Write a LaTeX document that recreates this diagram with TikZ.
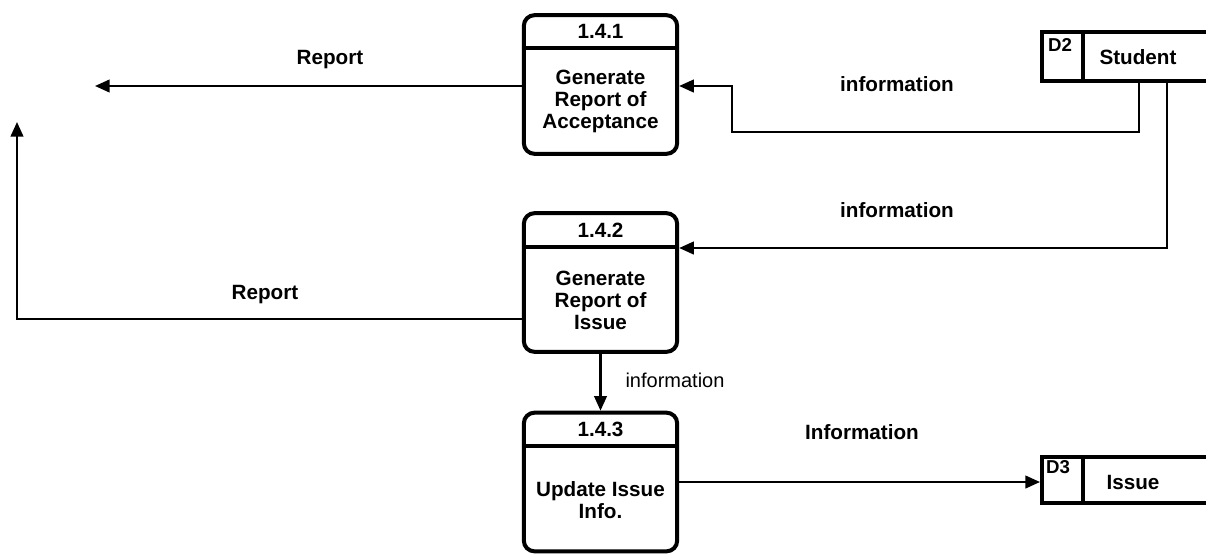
\documentclass[tikz,border=0pt]{standalone}
\usepackage{fontspec}
\setmainfont{Liberation Sans}
\usetikzlibrary{arrows.meta}
\begin{document}
\begin{tikzpicture}[x=0.75pt,y=-0.75pt,
  proc/.style={draw, line width=3pt, rounded corners=8pt,
    minimum width=115pt, minimum height=104pt, inner sep=0pt},
  store/.style={draw, line width=3pt, inner sep=0pt},
  rule/.style={line width=3pt},
  flow/.style={line width=1.6pt, -{Triangle[length=11pt,width=9.5pt]}},
  lbl/.style={font=\fontsize{15.5}{17}\selectfont\bfseries, inner sep=0pt},
  small/.style={font=\fontsize{15}{17}\selectfont, inner sep=0pt},
  body/.style={font=\fontsize{15.5}{16.5}\selectfont\bfseries, align=center, inner sep=0pt},
  tag/.style={font=\fontsize{14}{15}\selectfont\bfseries, inner sep=0pt},
]
\useasboundingbox (0,0) rectangle (1206,554);
\clip (0,0) rectangle (1206,554);

% processes
\node[proc] (p1) at (600.5,84.5) {};
\draw[rule] (p1.west |- 0,48) -- (p1.east |- 0,48);
\node[body] (p1id) at (600.5,31) {1.4.1};
\node[body] (p1tx) at (600.5,101) {Generate\\Report of\\Acceptance};

\node[proc] (p2) at (600.5,282.5) {};
\draw[rule] (p2.west |- 0,247) -- (p2.east |- 0,247);
\node[body] (p2id) at (600.5,230) {1.4.2};
\node[body] (p2tx) at (600.5,300) {Generate\\Report of\\Issue};

\node[proc] (p3) at (600.5,482) {};
\draw[rule] (p3.west |- 0,446) -- (p3.east |- 0,446);
\node[body] (p3id) at (600.5,429) {1.4.3};
\node[body] (p3tx) at (600.5,500) {Update Issue\\Info.};

% data stores
\node[store, minimum width=141pt, minimum height=36.75pt] (d2) at (1136,56.5) {};
\draw[rule] (d2.north -| 1083,0) -- (d2.south -| 1083,0);
\node[tag] (d2id) at (1060,45) {D2};
\node[lbl] (d2tx) at (1138,57) {Student};

\node[store, minimum width=141pt, minimum height=34.5pt] (d3) at (1136,480) {};
\draw[rule] (d3.north -| 1083,0) -- (d3.south -| 1083,0);
\node[tag] (d3id) at (1058,467) {D3};
\node[lbl] (d3tx) at (1133,482) {Issue};

% open ends of the report flows
\coordinate (r1end) at (95,86);
\coordinate (r2end) at (17,122);

% flows
\draw[flow] (p1.west |- 0,86) -- (r1end);
\draw[flow] (p2.west |- 0,319) -| (r2end);
\draw[flow] (d2.south -| 1139,0) |- (732,132) |- (p1.east |- 0,86);
\draw[flow] (d2.south -| 1167,0) |- (p2.east |- 0,248);
\draw[flow] (p2.south) -- (p3.north);
\draw[flow] (p3.east |- 0,482) -- (d3.west |- 0,482);

% flow labels
\node[lbl] (l1) at (330,60) {Report};
\node[lbl] (l2) at (265,295) {Report};
\node[lbl] (l3) at (897,84) {information};
\node[lbl] (l4) at (897,210) {information};
\node[small] (l5) at (675,380) {information};
\node[lbl] (l6) at (862,432) {Information};
\end{tikzpicture}
\end{document}
